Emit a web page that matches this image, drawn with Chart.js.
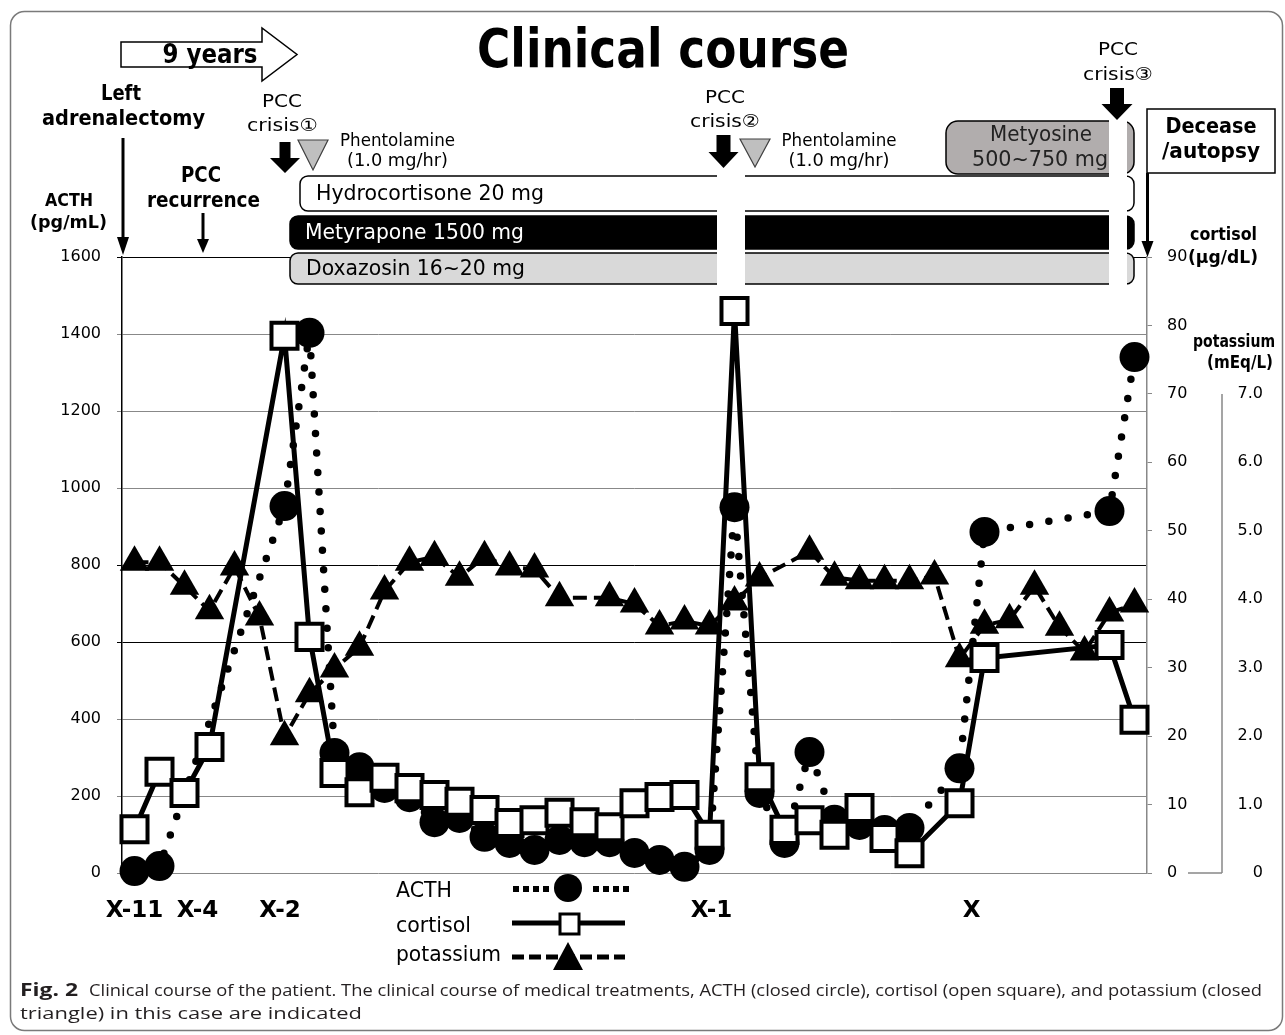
<!DOCTYPE html>
<html>
<head>
<meta charset="utf-8">
<script src="https://cdn.jsdelivr.net/npm/chart.js@4.4.0/dist/chart.umd.min.js"></script>
<style>
  body { margin: 0; background: #fff; }
  #wrap { position: relative; width: 1285px; height: 1035px; }
</style>
</head>
<body>
<div id="wrap"><canvas id="course" width="1285" height="1035"></canvas></div>
<script>
// x = visit slot along the time line (0 .. 40)
const acthSlots = [0, 1, 6, 7, 8, 9, 10, 11, 12, 13, 14, 15, 16, 17, 18, 19, 20, 21, 22, 23,
  24, 25, 26, 27, 28, 29, 30, 31, 33, 34, 39, 40];
const acthValues = [5, 18, 953, 1403, 312, 275, 221, 197, 132, 143, 94, 78, 60, 86, 80, 80, 52, 34, 16, 60,
  950, 208, 78, 314, 138, 125, 112, 117, 272, 886, 940, 1340];

const cortisolSlots = [0, 1, 2, 3, 6, 7, 8, 9, 10, 11, 12, 13, 14, 15, 16, 17, 18, 19, 20, 21,
  22, 23, 24, 25, 26, 27, 28, 29, 30, 31, 33, 34, 39, 40];
const cortisolValues = [6.4, 14.8, 11.7, 18.4, 78.5, 34.5, 14.6, 11.8, 13.9, 12.4, 11.4, 10.4, 9.2, 7.3, 7.7, 8.8, 7.4, 6.7, 10.2, 11.1,
  11.4, 5.6, 82.1, 14.0, 6.3, 7.7, 5.6, 9.5, 5.1, 2.9, 10.2, 31.4, 33.3, 22.4];

const potassiumSlots = [0, 1, 2, 3, 4, 5, 6, 7, 8, 9, 10, 11, 12, 13, 14, 15, 16, 17, 19, 20,
  21, 22, 23, 24, 25, 27, 28, 29, 30, 31, 32, 33, 34, 35, 36, 37, 38, 39, 40];
const potassiumValues = [4.54, 4.54, 4.19, 3.83, 4.47, 3.74, 1.99, 2.62, 2.98, 3.30, 4.12, 4.54, 4.62, 4.32, 4.62, 4.47, 4.44, 4.02, 4.02, 3.93,
  3.61, 3.68, 3.61, 3.96, 4.31, 4.70, 4.32, 4.27, 4.27, 4.27, 4.34, 3.13, 3.62, 3.70, 4.19, 3.59, 3.23, 3.80, 3.93];

const periodLabels = ['X-11', 'X-4', 'X-2', 'X-1', 'X'];
const periodSlots = [0, 2.52, 5.82, 23.08, 33.48];

const potassiumTicks = [0, 1, 2, 3, 4, 5, 6, 7];

const SANS = '"DejaVu Sans", "Noto Sans CJK JP", sans-serif';

function pairs(xs, ys) {
  return xs.map(function(x, i) { return { x: x, y: ys[i] }; });
}

function fitText(ctx, str, x, y, font, width, color, align) {
  ctx.save();
  ctx.font = font;
  ctx.fillStyle = color || '#000';
  ctx.textBaseline = 'alphabetic';
  ctx.textAlign = align || 'center';
  var w = ctx.measureText(str).width;
  ctx.translate(x, y);
  if (width) ctx.scale(width / w, 1);
  ctx.fillText(str, 0, 0);
  ctx.restore();
}

function roundBox(ctx, x, y, w, h, r, fill, stroke) {
  ctx.beginPath();
  ctx.roundRect(x, y, w, h, r);
  if (fill) { ctx.fillStyle = fill; ctx.fill(); }
  if (stroke) { ctx.strokeStyle = stroke; ctx.lineWidth = 1.5; ctx.stroke(); }
}

function blockArrow(ctx, cx, top, headTop, tip, shaftW, headW) {
  ctx.beginPath();
  ctx.moveTo(cx - shaftW / 2, top);
  ctx.lineTo(cx + shaftW / 2, top);
  ctx.lineTo(cx + shaftW / 2, headTop);
  ctx.lineTo(cx + headW / 2, headTop);
  ctx.lineTo(cx, tip);
  ctx.lineTo(cx - headW / 2, headTop);
  ctx.lineTo(cx - shaftW / 2, headTop);
  ctx.closePath();
  ctx.fillStyle = '#000';
  ctx.fill();
}

function thinArrow(ctx, x, top, tip, headLen, headHalf) {
  ctx.save();
  ctx.strokeStyle = '#000';
  ctx.lineWidth = 3;
  ctx.beginPath();
  ctx.moveTo(x, top);
  ctx.lineTo(x, tip - headLen + 2);
  ctx.stroke();
  ctx.beginPath();
  ctx.moveTo(x - headHalf, tip - headLen);
  ctx.lineTo(x + headHalf, tip - headLen);
  ctx.lineTo(x, tip);
  ctx.closePath();
  ctx.fillStyle = '#000';
  ctx.fill();
  ctx.restore();
}

function grayTriangle(ctx, left, right, top, tip) {
  ctx.beginPath();
  ctx.moveTo(left, top);
  ctx.lineTo(right, top);
  ctx.lineTo((left + right) / 2, tip);
  ctx.closePath();
  ctx.fillStyle = '#bfbfbf';
  ctx.fill();
  ctx.strokeStyle = '#404040';
  ctx.lineWidth = 1.2;
  ctx.stroke();
}

// treatment bars sit behind the data, above the grid
const treatments = {
  id: 'treatments',
  beforeDatasetsDraw(chart) {
    var ctx = chart.ctx;
    ctx.save();
    roundBox(ctx, 300, 176, 834, 35, 8, '#fff', '#000');
    roundBox(ctx, 290, 216, 844, 33, 8, '#000', '#000');
    roundBox(ctx, 290, 253, 844, 31, 8, '#d9d9d9', '#000');
    roundBox(ctx, 946, 121, 188, 53, 12, '#b1adad', '#000');

    fitText(ctx, 'Hydrocortisone 20 mg', 316, 200, '21px ' + SANS, 228, '#000', 'left');
    fitText(ctx, 'Metyrapone 1500 mg', 305, 239, '21px ' + SANS, 219, '#fff', 'left');
    fitText(ctx, 'Doxazosin 16~20 mg', 306, 275, '21px ' + SANS, 219, '#000', 'left');
    fitText(ctx, 'Metyosine', 1041, 141, '21px ' + SANS, 102, '#222');
    fitText(ctx, '500~750 mg', 1040, 166, '21px ' + SANS, 136, '#222');

    // treatment interruptions at the crises
    ctx.fillStyle = '#fff';
    ctx.fillRect(717, 172, 28, 125);
    ctx.fillRect(1109, 118, 18, 168);
    ctx.restore();
  }
};

const decor = {
  id: 'decor',
  afterDraw(chart) {
    var ctx = chart.ctx;
    var xs = chart.scales.x;
    var yK = chart.scales.yK;
    ctx.save();

    // outer frame
    ctx.beginPath();
    ctx.roundRect(10.5, 11.5, 1272, 1019, 14);
    ctx.strokeStyle = '#7a7a7a';
    ctx.lineWidth = 1.5;
    ctx.stroke();

    fitText(ctx, 'Clinical course', 663, 67, 'bold 53px ' + SANS, 372);

    // 9 years block arrow
    ctx.beginPath();
    ctx.moveTo(121, 42); ctx.lineTo(262, 42); ctx.lineTo(262, 28); ctx.lineTo(297, 54.5);
    ctx.lineTo(262, 81); ctx.lineTo(262, 67); ctx.lineTo(121, 67); ctx.closePath();
    ctx.fillStyle = '#fff'; ctx.fill();
    ctx.strokeStyle = '#000'; ctx.lineWidth = 1.5; ctx.stroke();
    fitText(ctx, '9 years', 210, 63, 'bold 26px ' + SANS, 95);

    fitText(ctx, 'Left', 121, 100, 'bold 21px ' + SANS, 40);
    fitText(ctx, 'adrenalectomy', 123.5, 125, 'bold 21px ' + SANS, 163);
    thinArrow(ctx, 123, 138, 255, 18, 6);

    fitText(ctx, 'PCC', 201, 182, 'bold 21px ' + SANS, 40);
    fitText(ctx, 'recurrence', 203.5, 207, 'bold 21px ' + SANS, 113);
    thinArrow(ctx, 203, 213, 253, 14, 6);

    fitText(ctx, 'ACTH', 69, 206, 'bold 17px ' + SANS, 48);
    fitText(ctx, '(pg/mL)', 68.5, 228, 'bold 17px ' + SANS, 77);

    // crisis 1
    fitText(ctx, 'PCC', 282, 107, '18px ' + SANS, 40);
    fitText(ctx, 'crisis\u2460', 282.5, 131, '18px ' + SANS, 71);
    blockArrow(ctx, 285, 142, 158, 173, 11, 30);
    grayTriangle(ctx, 298, 328, 140, 170);
    fitText(ctx, 'Phentolamine', 397.5, 146, '17px ' + SANS, 115);
    fitText(ctx, '(1.0 mg/hr)', 397.5, 166, '17px ' + SANS, 101);

    // crisis 2
    fitText(ctx, 'PCC', 725, 103, '18px ' + SANS, 40);
    fitText(ctx, 'crisis\u2461', 725, 127, '18px ' + SANS, 70);
    blockArrow(ctx, 723.5, 135, 152, 168, 14, 30);
    grayTriangle(ctx, 740, 770, 139, 167);
    fitText(ctx, 'Phentolamine', 839, 146, '17px ' + SANS, 115);
    fitText(ctx, '(1.0 mg/hr)', 839, 166, '17px ' + SANS, 101);

    // crisis 3
    fitText(ctx, 'PCC', 1118, 55, '18px ' + SANS, 40);
    fitText(ctx, 'crisis\u2462', 1118, 80, '18px ' + SANS, 70);
    blockArrow(ctx, 1117, 88, 104, 120, 14, 31);

    // decease box
    ctx.fillStyle = '#fff';
    ctx.fillRect(1147, 109, 128, 64);
    ctx.strokeStyle = '#000'; ctx.lineWidth = 1.5;
    ctx.strokeRect(1147, 109, 128, 64);
    fitText(ctx, 'Decease', 1211, 133, 'bold 21px ' + SANS, 91);
    fitText(ctx, '/autopsy', 1211, 158, 'bold 21px ' + SANS, 98);
    thinArrow(ctx, 1147.5, 173, 257, 16, 6);

    // right axis titles
    fitText(ctx, 'cortisol', 1223.5, 240, 'bold 17px ' + SANS, 67);
    fitText(ctx, '(\u03bcg/dL)', 1223, 263, 'bold 17px ' + SANS, 70);
    fitText(ctx, 'potassium', 1234, 347, 'bold 17px ' + SANS, 82);
    fitText(ctx, '(mEq/L)', 1240, 368, 'bold 17px ' + SANS, 66);

    // potassium axis, only 0 .. 7.0
    var kx = yK.left;
    ctx.beginPath();
    ctx.moveTo(kx, yK.getPixelForValue(7));
    ctx.lineTo(kx, yK.getPixelForValue(0));
    ctx.moveTo(1188, yK.getPixelForValue(0));
    ctx.lineTo(kx, yK.getPixelForValue(0));
    ctx.strokeStyle = '#888'; ctx.lineWidth = 1.5;
    ctx.stroke();
    ctx.font = '16px ' + SANS;
    ctx.fillStyle = '#000';
    ctx.textAlign = 'right';
    ctx.textBaseline = 'middle';
    potassiumTicks.forEach(function(v) {
      ctx.fillText(v === 0 ? '0' : v.toFixed(1), 1263, yK.getPixelForValue(v));
    });

    // period labels under the time line
    periodLabels.forEach(function(lab, i) {
      fitText(ctx, lab, xs.getPixelForValue(periodSlots[i]), 917, 'bold 23px ' + SANS, null);
    });

    // legend
    fitText(ctx, 'ACTH', 396, 897, '21px ' + SANS, 56, '#000', 'left');
    fitText(ctx, 'cortisol', 396, 932, '21px ' + SANS, 75, '#000', 'left');
    fitText(ctx, 'potassium', 396, 961, '21px ' + SANS, 105, '#000', 'left');

    ctx.fillStyle = '#000';
    for (var d = 513; d < 624; d += 10) {
      if (Math.abs(d - 568) > 16) ctx.fillRect(d, 886, 6, 6);
    }
    ctx.beginPath(); ctx.arc(568, 888, 14, 0, Math.PI * 2); ctx.fill();

    ctx.beginPath();
    ctx.moveTo(512, 923); ctx.lineTo(625, 923);
    ctx.lineWidth = 5; ctx.strokeStyle = '#000'; ctx.stroke();
    ctx.fillStyle = '#fff'; ctx.fillRect(560, 914, 19, 20);
    ctx.lineWidth = 3; ctx.strokeRect(560, 914, 19, 20);

    ctx.beginPath();
    ctx.setLineDash([12, 5]);
    ctx.moveTo(512, 957); ctx.lineTo(625, 957);
    ctx.lineWidth = 5; ctx.stroke();
    ctx.setLineDash([]);
    ctx.beginPath();
    ctx.moveTo(568, 942); ctx.lineTo(583, 970); ctx.lineTo(553, 970); ctx.closePath();
    ctx.fillStyle = '#000'; ctx.fill();

    // caption
    fitText(ctx, 'Fig. 2', 20, 996, 'bold 17px "Open Sans", sans-serif', 58, '#231f20', 'left');
    fitText(ctx, 'Clinical course of the patient. The clinical course of medical treatments, ACTH (closed circle), cortisol (open square), and potassium (closed',
      89, 996, '17px "Open Sans", sans-serif', 1173, '#231f20', 'left');
    fitText(ctx, 'triangle) in this case are indicated', 20, 1019, '17px "Open Sans", sans-serif', 342, '#231f20', 'left');

    ctx.restore();
  }
};

var darkLines = [1600, 800, 600];

var chart = new Chart(document.getElementById('course'), {
  type: 'line',
  data: {
    datasets: [
      {
        label: 'cortisol',
        data: pairs(cortisolSlots, cortisolValues),
        yAxisID: 'yC',
        order: 1,
        borderColor: '#000',
        borderWidth: 5,
        pointStyle: 'rect',
        pointRadius: 18.4,
        pointBackgroundColor: '#fff',
        pointBorderColor: '#000',
        pointBorderWidth: 4,
        clip: false
      },
      {
        label: 'potassium',
        data: pairs(potassiumSlots, potassiumValues),
        yAxisID: 'yK',
        order: 2,
        borderColor: '#000',
        borderWidth: 4,
        borderDash: [14, 7],
        pointStyle: 'triangle',
        pointRadius: 17,
        pointBackgroundColor: '#000',
        pointBorderColor: '#000',
        pointBorderWidth: 0,
        clip: false
      },
      {
        label: 'ACTH',
        data: pairs(acthSlots, acthValues),
        yAxisID: 'yA',
        order: 3,
        borderColor: '#000',
        borderWidth: 7.5,
        borderDash: [0, 19.5],
        borderCapStyle: 'round',
        pointStyle: 'circle',
        pointRadius: 15,
        pointBackgroundColor: '#000',
        pointBorderColor: '#000',
        pointBorderWidth: 0,
        clip: false
      }
    ]
  },
  options: {
    responsive: false,
    animation: false,
    events: [],
    layout: { padding: { top: 257, bottom: 162, left: 0, right: 0 } },
    plugins: { legend: { display: false }, tooltip: { enabled: false } },
    scales: {
      x: { type: 'linear', min: -0.5, max: 40.5, display: false },
      yA: {
        position: 'left',
        min: 0, max: 1600,
        ticks: {
          stepSize: 200, padding: 16, color: '#000', font: { family: SANS, size: 16 },
          callback: function(v) { return String(v); }
        },
        grid: {
          tickLength: 5,
          color: function(c) { return darkLines.indexOf(c.tick.value) >= 0 ? '#000' : '#888'; }
        },
        border: { color: '#000', width: 1.5 },
        afterFit: function(s) { s.width = 122; }
      },
      yC: {
        position: 'right',
        weight: 0,
        min: 0, max: 90,
        ticks: { stepSize: 10, padding: 15, color: '#000', font: { family: SANS, size: 16 } },
        grid: { drawOnChartArea: false, tickLength: 5, color: '#888' },
        border: { color: '#888', width: 1.5 },
        afterFit: function(s) { s.width = 75; }
      },
      yK: {
        position: 'right',
        weight: 1,
        min: 0, max: 9,
        ticks: { display: false, stepSize: 1 },
        grid: { display: false },
        border: { display: false },
        afterFit: function(s) { s.width = 63; }
      }
    }
  },
  plugins: [treatments, decor]
});
</script>
</body>
</html>
